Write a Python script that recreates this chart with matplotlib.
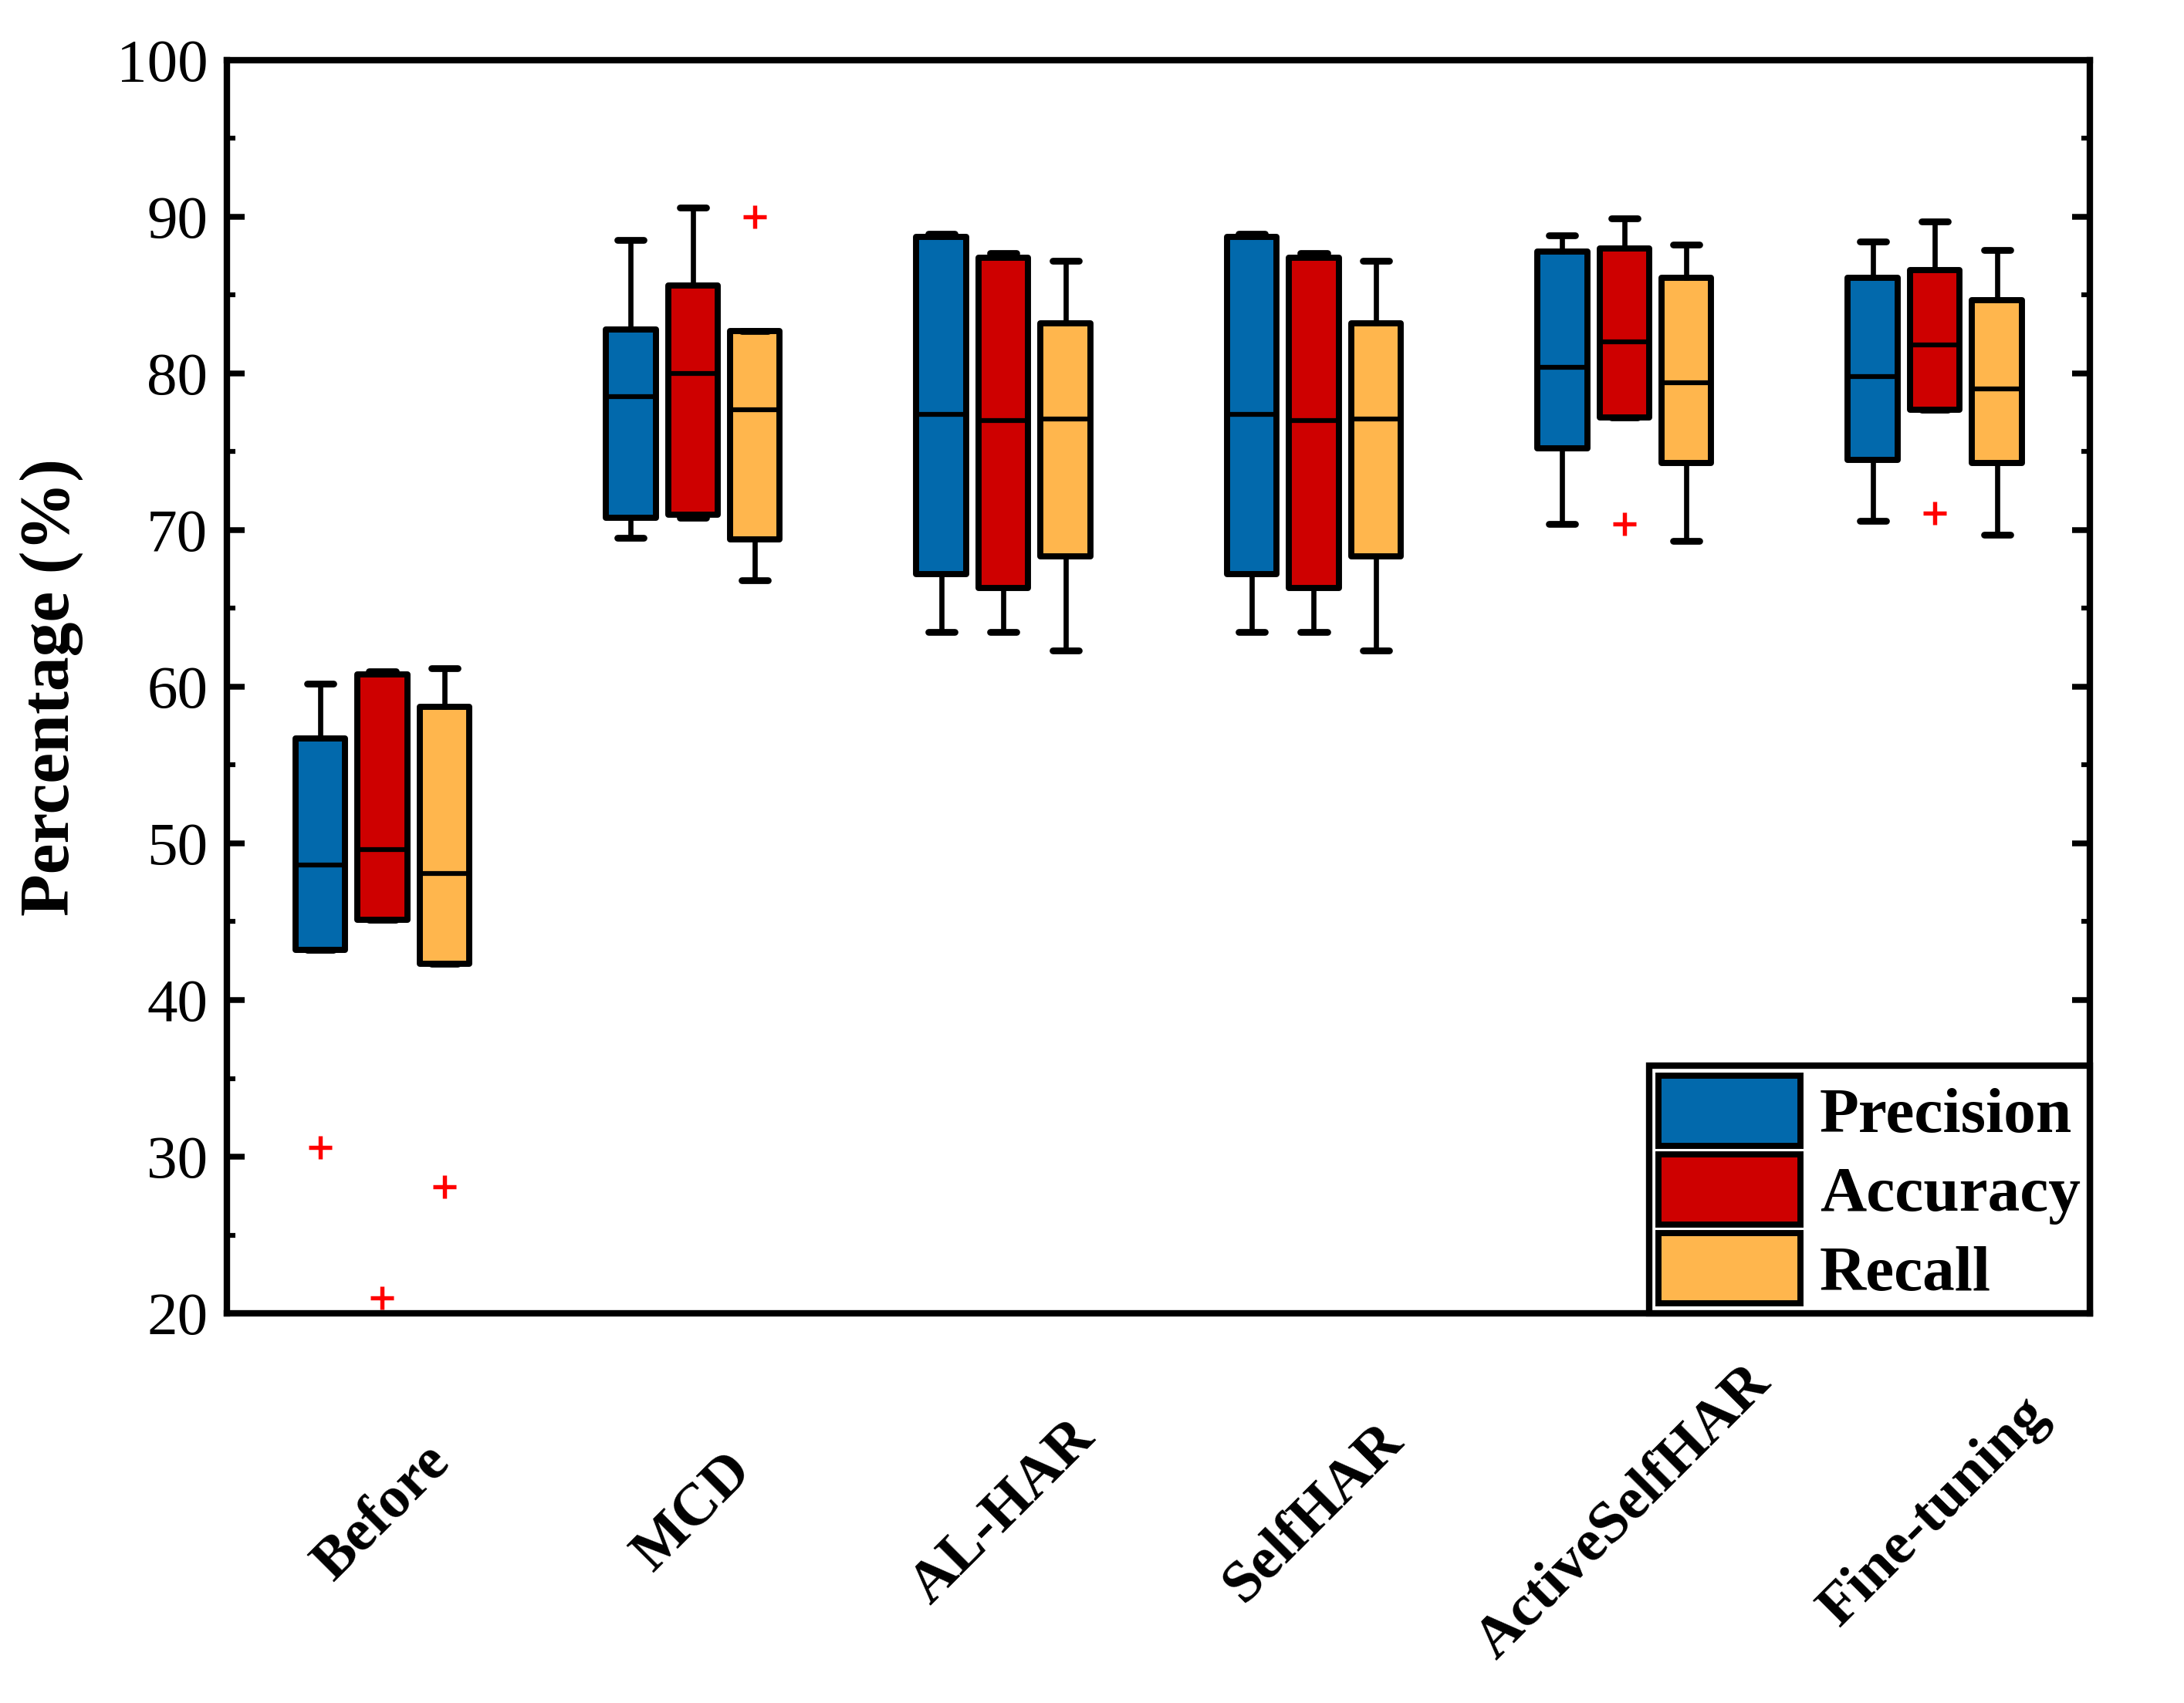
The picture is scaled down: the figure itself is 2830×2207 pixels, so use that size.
import matplotlib
matplotlib.use("Agg")
import matplotlib.pyplot as plt
from matplotlib.ticker import MultipleLocator

plt.rcParams['font.family'] = ['Liberation Serif', 'DejaVu Serif']

# groups and metrics
groups = ["Before", "MCD", "AL-HAR", "SelfHAR", "ActiveSelfHAR", "Fine-tuning"]
metrics = ["Precision", "Accuracy", "Recall"]
colors = ["#0269AC", "#CE0000", "#FFB64D"]

# box stats: [whislo, q1, med, q3, whishi]
precision = [[43.2, 43.2, 48.6, 56.7, 60.2],
             [69.5, 70.8, 78.5, 82.8, 88.5],
             [63.5, 67.2, 77.4, 88.7, 88.9],
             [63.5, 67.2, 77.4, 88.7, 88.9],
             [70.4, 75.2, 80.4, 87.8, 88.8],
             [70.6, 74.5, 79.8, 86.1, 88.4]]
accuracy = [[45.1, 45.1, 49.6, 60.8, 61.0],
            [70.8, 71.0, 80.0, 85.6, 90.6],
            [63.5, 66.3, 77.0, 87.4, 87.7],
            [63.5, 66.3, 77.0, 87.4, 87.7],
            [77.2, 77.2, 82.0, 88.0, 89.9],
            [77.7, 77.7, 81.8, 86.6, 89.7]]
recall = [[42.3, 42.3, 48.1, 58.7, 61.2],
          [66.8, 69.4, 77.7, 82.7, 82.7],
          [62.3, 68.3, 77.1, 83.2, 87.2],
          [62.3, 68.3, 77.1, 83.2, 87.2],
          [69.3, 74.3, 79.4, 86.1, 88.2],
          [69.7, 74.3, 79.0, 84.7, 87.9]]
# outliers per group
precision_out = [[30.6], [], [], [], [], []]
accuracy_out = [[21.0], [], [], [], [70.4], [71.1]]
recall_out = [[28.1], [90.0], [], [], [], []]

series = [(precision, precision_out), (accuracy, accuracy_out), (recall, recall_out)]

fig = plt.figure(figsize=(2830/300, 2207/300), dpi=300)
ax = fig.add_axes([0.104, 0.2288, 0.853, 0.7359])

offsets = [-0.2, 0.0, 0.2]
handles = []
for k, (stats, outs) in enumerate(series):
    bxp_stats = []
    for i in range(len(groups)):
        s = stats[i]
        bxp_stats.append(dict(whislo=s[0], q1=s[1], med=s[2], q3=s[3], whishi=s[4],
                              fliers=outs[i]))
    pos = [i + 1 + offsets[k] for i in range(len(groups))]
    bp = ax.bxp(bxp_stats, positions=pos, widths=0.16, capwidths=0.085,
                patch_artist=True, showfliers=True,
                boxprops=dict(facecolor=colors[k], edgecolor='black', linewidth=1.9),
                medianprops=dict(color='black', linewidth=1.5),
                whiskerprops=dict(color='black', linewidth=1.6),
                capprops=dict(color='black', linewidth=2.1, solid_capstyle='round'),
                flierprops=dict(marker='+', markeredgecolor='red', markersize=7,
                                markeredgewidth=1.3, linestyle='none'))
    for b in bp['boxes']:
        b.set_joinstyle('round')
    handles.append(bp['boxes'][0])

ax.set_xlim(0.5, 6.5)
ax.set_ylim(20, 100)
ax.yaxis.set_major_locator(MultipleLocator(10))
ax.yaxis.set_minor_locator(MultipleLocator(5))
ax.tick_params(axis='y', which='major', direction='in', length=5.5, width=1.8,
               labelsize=19, right=True, pad=6)
ax.tick_params(axis='y', which='minor', direction='in', length=2.7, width=1.5, right=True)
ax.set_xticks(range(1, len(groups) + 1))
ax.set_xticklabels(groups, rotation=45, ha='center', va='center',
                   fontsize=18.5, fontweight='bold')
ax.tick_params(axis='x', length=0, pad=62)

for sp in ax.spines.values():
    sp.set_linewidth(2.0)

ax.set_ylabel("Percentage (%)", fontsize=21.5, fontweight='bold')
ax.yaxis.set_label_coords(-0.077, 0.5)

leg = ax.legend(handles, metrics, loc='lower right', borderaxespad=0,
                prop=dict(size=20, weight='bold'), fancybox=False,
                edgecolor='black', framealpha=1, handlelength=2.2,
                handleheight=1.3, labelspacing=0.13, borderpad=0.15,
                handletextpad=0.3)
leg.get_frame().set_linewidth(2.0)

fig.savefig("out.png", dpi=300)
